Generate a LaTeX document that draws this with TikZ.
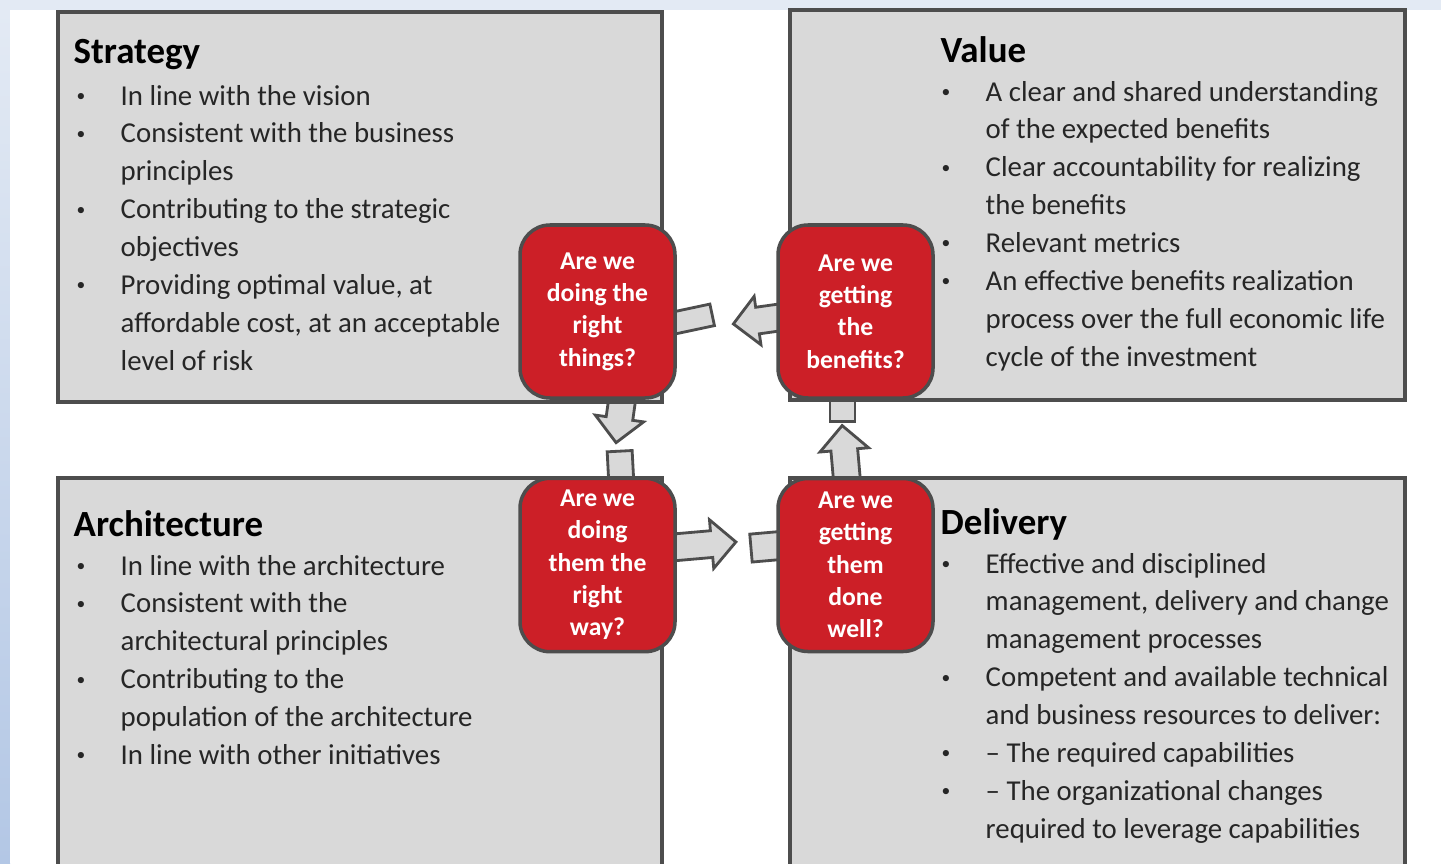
\documentclass[tikz,border=0pt]{standalone}
\usepackage{fontspec}
\setmainfont{Carlito}
\usetikzlibrary{shapes.arrows, positioning, backgrounds}

\definecolor{panelgray}{HTML}{D9D9D9}
\definecolor{edgegray}{HTML}{4D4D4D}
\definecolor{qred}{HTML}{CC1F27}
\definecolor{bodytext}{HTML}{262626}
\definecolor{paleblue}{HTML}{E3EAF4}
\definecolor{sideblue}{HTML}{B3C7E5}

% small bullet for the lists
\newcommand{\dotmark}{\raisebox{1.1pt}{\fontsize{5}{5}\selectfont\textbullet}}

\begin{document}
\begin{tikzpicture}[
    panel/.style={rectangle, draw=edgegray, fill=panelgray, line width=1pt},
    question/.style={rectangle, rounded corners=0.3cm, draw=edgegray, fill=qred, line width=1pt, minimum width=1.55cm, minimum height=1.73cm, align=center, text=white, font=\fontsize{7.3}{9.2}\selectfont\bfseries},
    paneltitle/.style={anchor=base west, inner sep=0, font=\fontsize{10.5}{12}\selectfont\bfseries},
    listtext/.style={anchor=base west, inner sep=0, text=bodytext, font=\fontsize{8.2}{10.8}\selectfont},
    headarrow/.style={single arrow, draw=edgegray, fill=panelgray, line width=0.8pt, single arrow head extend=0.11cm, single arrow tip angle=90, inner xsep=0, inner ysep=0.12cm, anchor=tail},
    stubpiece/.style={rectangle, draw=edgegray, fill=panelgray, line width=0.8pt, inner sep=0, anchor=west}
]
\useasboundingbox (0,0) rectangle (14.41,-8.63);

\begin{pgfonlayer}{background}
\fill[paleblue] (0,0) rectangle (14.41,-8.63);
\shade[top color=paleblue, bottom color=sideblue] (0,-0.1) rectangle (0.1,-8.63);
\fill[white] (0.1,-0.1) rectangle (14.41,-8.63);
\end{pgfonlayer}

% the four panels
\node[panel, minimum width=6.04cm, minimum height=3.90cm] (strategy) at (3.60,-2.07) {};
\node[panel, minimum width=6.15cm, minimum height=3.90cm] (value) at (10.975,-2.05) {};
\node[panel, minimum width=6.04cm, minimum height=3.97cm] (architecture) at (3.60,-6.765) {};
\node[panel, minimum width=6.15cm, minimum height=3.97cm] (delivery) at (10.975,-6.765) {};

\node[paneltitle] (stratT) at (0.73,-0.63) {Strategy};
\node[listtext] (stratL) at (0.76,-1.05) {\begin{tabular}[t]{@{}p{0.44cm}@{}l@{}}
\dotmark & In line with the vision\\
\dotmark & Consistent with the business\\
 & principles\\
\dotmark & Contributing to the strategic\\
 & objectives\\
\dotmark & Providing optimal value, at\\
 & affordable cost, at an acceptable\\
 & level of risk
\end{tabular}};

\node[paneltitle] (valT) at (9.40,-0.62) {Value};
\node[listtext] (valL) at (9.41,-1.01) {\begin{tabular}[t]{@{}p{0.44cm}@{}l@{}}
\dotmark & A clear and shared understanding\\
 & of the expected benefits\\
\dotmark & Clear accountability for realizing\\
 & the benefits\\
\dotmark & Relevant metrics\\
\dotmark & An effective benefits realization\\
 & process over the full economic life\\
 & cycle of the investment
\end{tabular}};

\node[paneltitle] (archT) at (0.73,-5.36) {Architecture};
\node[listtext] (archL) at (0.76,-5.75) {\begin{tabular}[t]{@{}p{0.44cm}@{}l@{}}
\dotmark & In line with the architecture\\
\dotmark & Consistent with the\\
 & architectural principles\\
\dotmark & Contributing to the\\
 & population of the architecture\\
\dotmark & In line with other initiatives
\end{tabular}};

\node[paneltitle] (delT) at (9.40,-5.34) {Delivery};
\node[listtext] (delL) at (9.41,-5.73) {\begin{tabular}[t]{@{}p{0.44cm}@{}l@{}}
\dotmark & Effective and disciplined\\
 & management, delivery and change\\
 & management processes\\
\dotmark & Competent and available technical\\
 & and business resources to deliver:\\
\dotmark & – The required capabilities\\
\dotmark & – The organizational changes\\
 & required to leverage capabilities
\end{tabular}};

% the four questions
\node[question] (sq) at (5.975,-3.115) {Are we\\doing the\\right\\things?};
\node[question] (vq) at (8.555,-3.115) {Are we\\getting\\the\\benefits?};
\node[question] (aq) at (5.975,-5.65) {Are we\\doing\\them the\\right\\way?};
\node[question] (dq) at (8.555,-5.65) {Are we\\getting\\them\\done\\well?};

% broken cycle of arrows, behind the questions
\begin{pgfonlayer}{background}
\node[headarrow, minimum height=0.52cm, rotate=188] (toStrat) at ([xshift=0.1cm, yshift=-0.05cm]vq.west) {};
\node[headarrow, minimum height=0.52cm, rotate=262] (toArch) at ([xshift=0.26cm, yshift=0.1cm]sq.south) {};
\node[headarrow, minimum height=0.68cm, rotate=5] (toDel) at ([xshift=-0.1cm, yshift=0.17cm]aq.east) {};
\node[headarrow, minimum height=0.60cm, rotate=95] (toVal) at ([xshift=-0.08cm, yshift=-0.1cm]dq.north) {};
\node[stubpiece, minimum width=0.45cm, minimum height=0.22cm, rotate=12] (stubS) at ([xshift=-0.1cm, yshift=-0.13cm]sq.east) {};
\node[stubpiece, minimum width=0.34cm, minimum height=0.25cm, rotate=93] (stubA) at ([xshift=0.24cm, yshift=-0.1cm]aq.north) {};
\node[stubpiece, minimum width=0.34cm, minimum height=0.28cm, rotate=185] (stubD) at ([xshift=0.1cm, yshift=0.2cm]dq.west) {};
\node[stubpiece, minimum width=0.30cm, minimum height=0.25cm, rotate=270] (stubV) at ([xshift=-0.13cm, yshift=0.1cm]vq.south) {};
\end{pgfonlayer}
\end{tikzpicture}
\end{document}
